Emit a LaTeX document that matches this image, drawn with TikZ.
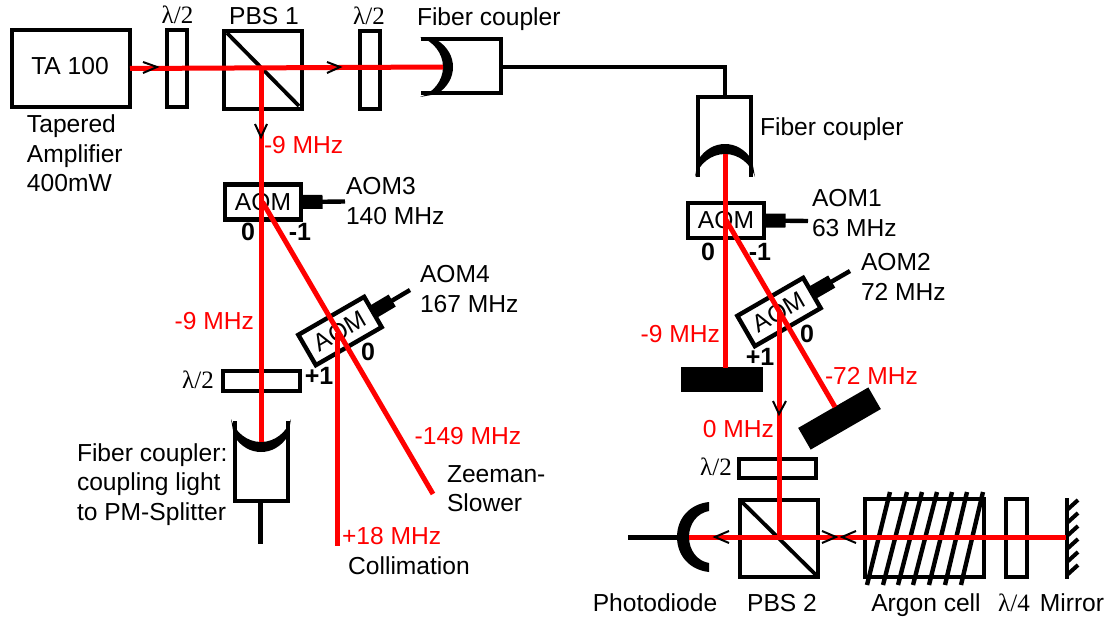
\documentclass[tikz,border=0pt]{standalone}
\usepackage{fontspec}
\setmainfont{Liberation Sans}
\newfontfamily\lamfont{Liberation Serif}
\usetikzlibrary{calc}
\tikzset{
  lab/.style={inner sep=0pt,outer sep=0pt,font=\fontsize{24.6}{29.5}\selectfont,text height=17.2pt,text depth=0pt},
  multi/.style={inner sep=0pt,outer sep=0pt,font=\fontsize{24.6}{29.5}\selectfont,align=left,anchor=north west},
  freq/.style={lab,text=beamred},
  order/.style={lab,font=\fontsize{25}{29.5}\selectfont\bfseries},
  lam/.style={inner sep=0pt,outer sep=0pt,font=\fontsize{25}{29}\selectfont\lamfont,text height=17pt,text depth=0pt},
  optic/.style={draw=black,line width=4.4pt,inner sep=0pt,outer sep=0pt},
  aom/.style={optic,minimum width=76pt,minimum height=35pt,font=\fontsize{24.6}{29}\selectfont},
  dump/.style={fill=black,inner sep=0pt,outer sep=0pt},
  beam/.style={draw=beamred,line width=5pt},
  wire/.style={draw=black,line width=4.4pt},
  fiber/.style={draw=black,line width=5pt},
  stub/.style={draw=black,line width=14pt},
  chev/.style={draw=black,line width=2pt,line join=miter},
  tilted/.style={rotate=30},
}
\definecolor{beamred}{RGB}{255,0,0}
\newcommand{\crescent}{%
  \fill[black] (-30,23) .. controls (-26,10) and (-14,0) .. (0,0)
    .. controls (14,0) and (26,10) .. (30,23) -- (27,6)
    .. controls (20,-5) and (10,-10) .. (0,-10)
    .. controls (-10,-10) and (-20,-5) .. (-27,6) -- cycle;}
\begin{document}
\begin{tikzpicture}[x=1pt,y=-1pt]
\useasboundingbox (0,0) rectangle (1108,618);
% ---------- components
\node[optic,minimum width=118pt,minimum height=77pt] (ta) at (71,68.5) {};
\node[lab] (talab) at (70,66) {TA 100};
\node[multi] (tapered) at (27,115) {Tapered\\Amplifier\\400mW};
\node[optic,minimum width=20pt,minimum height=77pt] (hw1) at (177,68.5) {};
\node[lam] (hw1lab) at (177.5,15) {λ/2};
\node[optic,minimum width=78pt,minimum height=78pt] (pbs1) at (263,70) {};
\node[lab] (pbs1lab) at (264,16) {PBS 1};
\node[optic,minimum width=20pt,minimum height=78pt] (hw2) at (370,70) {};
\node[lam] (hw2lab) at (369,16) {λ/2};
\node[lab,anchor=west] (fc1lab) at (417,17) {Fiber coupler};

\node[aom] (aom3) at (263,202) {AOM};
\node[multi] (aom3lab) at (346,177.5) {AOM3\\140 MHz};
\node[order] (a3z) at (248,232) {0};
\node[order] (a3m) at (300,232) {-1};
\node[aom,tilted] (aom4) at (340,331) {AOM};
\node[multi] (aom4lab) at (420,265.5) {AOM4\\167 MHz};
\node[order] (a4z) at (368,352) {0};
\node[order] (a4p) at (319,376) {+1};
\node[optic,minimum width=77pt,minimum height=20pt] (hw3) at (261.5,381) {};
\node[lam] (hw3lab) at (198,380) {λ/2};

\node[aom] (aom1) at (726,220.5) {AOM};
\node[multi] (aom1lab) at (812,189.5) {AOM1\\63 MHz};
\node[order] (a1z) at (708,252) {0};
\node[order] (a1m) at (760,252) {-1};
\node[aom,tilted] (aom2) at (779,312) {AOM};
\node[multi] (aom2lab) at (861,253.5) {AOM2\\72 MHz};
\node[order] (a2z) at (807,334) {0};
\node[order] (a2p) at (760,357) {+1};
\node[dump,minimum width=82pt,minimum height=25pt] (dump1) at (722,379.5) {};
\node[dump,tilted,minimum width=81pt,minimum height=25pt] (dump2) at (839.5,418.5) {};
\node[optic,minimum width=77pt,minimum height=19pt] (hw4) at (777.5,468.5) {};
\node[lam] (hw4lab) at (716,467) {λ/2};
\node[optic,minimum width=78pt,minimum height=77pt] (pbs2) at (779,538.5) {};
\node[optic,minimum width=119pt,minimum height=78pt] (cell) at (924.5,538) {};
\node[optic,minimum width=21pt,minimum height=78pt] (qw) at (1016.5,538) {};

\node[lab] (pdlab) at (655,603) {Photodiode};
\node[lab] (pbs2lab) at (782,603) {PBS 2};
\node[lab] (celllab) at (926,603) {Argon cell};
\node[lam] (qwlab) at (1014,603) {λ/4};
\node[lab] (mirlab) at (1072,603) {Mirror};

\node[lab,anchor=west] (fc2lab) at (760,127) {Fiber coupler};
\node[multi] (fc3lab) at (77,443.5) {Fiber coupler:\\coupling light\\to PM-Splitter};
\node[multi] (zslab) at (447,465.5) {Zeeman-\\Slower};
\node[lab] (collab) at (409,566) {Collimation};

% ---------- free ends
\coordinate (fc1out) at (503,67);
\coordinate (bend) at (725,67);
\coordinate (fc2in) at (725,95);
\coordinate (fc1focus) at (443,67);
\coordinate (fc2focus) at (725,154);
\coordinate (fc3focus) at (261,442);
\coordinate (fc3out) at (260,503);
\coordinate (fc3end) at (260,544);
\coordinate (split1) at (261,67);
\coordinate (split2) at (779,537);
\coordinate (a3c) at (262.5,202);
\coordinate (a1c) at (726,220);
\coordinate (zs) at (433,494);
\coordinate (coll) at (337,546);
\coordinate (coll0) at (337,333);
\coordinate (d2top) at (835,407);
\coordinate (d1top) at (725,368);
\coordinate (p2) at (779,312);
\coordinate (pdfoc) at (689,537);
\coordinate (pdfib) at (628,537);
\coordinate (pdback) at (677,537);
\coordinate (mirhit) at (1066,537);
\coordinate (a3d) at (345,201.5);
\coordinate (a1d) at (808,221);
\coordinate (a4d) at (410,290);
\coordinate (a2d) at (850,271);

% ---------- fibre coupler housings
\draw[wire] (421,39) -- (501,39) -- (501,93) -- (421,93);
\begin{scope}[shift={(fc1focus)},rotate=-90]\crescent\end{scope}
\draw[wire] (698,177) -- (698,97) -- (751,97) -- (751,177);
\begin{scope}[shift={(fc2focus)}]\crescent\end{scope}
\draw[wire] (235,421) -- (235,501) -- (288,501) -- (288,421);
\begin{scope}[shift={(fc3focus)},yscale=-1]\crescent\end{scope}
% fibres
\draw[wire] (fc1out) -- (bend) -- (fc2in);
\draw[fiber] (fc3out) -- (fc3end);
% AOM drivers
\draw[wire] (aom3.east) -- (a3d);
\draw[stub] (aom3.east) -- ($(aom3.east)!0.49!(a3d)$);
\draw[wire] (aom1.east) -- (a1d);
\draw[stub] (aom1.east) -- ($(aom1.east)!0.49!(a1d)$);
\draw[wire] (aom4.east) -- (a4d);
\draw[stub] (aom4.east) -- ($(aom4.east)!0.52!(a4d)$);
\draw[wire] (aom2.east) -- (a2d);
\draw[stub] (aom2.east) -- ($(aom2.east)!0.52!(a2d)$);
% cube diagonals
\draw[line width=3.8pt] (227,33) -- (299,106);
\draw[line width=3.8pt] (742,502) -- (816,575);
% photodiode
\fill[black] (709,502) .. controls (690,504) and (677,518) .. (677,537)
  .. controls (677,556) and (690,570) .. (709,572) -- (709,563)
  .. controls (697,561) and (689,550) .. (689,537)
  .. controls (689,524) and (697,513) .. (709,511) -- cycle;
\draw[fiber] (pdfib) -- (pdback);
% argon cell windings
\foreach \b/\t in {867/890,883/907,898/922,913/937,929/952,945/967,961/983}
  \draw[line width=4.4pt] (\b,585) -- (\t,492);
% mirror
\draw[line width=4.4pt] (1067,498) -- (1067,579);
\foreach \y in {505,518,531,544,557,570}
  \draw[line width=4pt] (1067,\y+5) -- (1078,\y-5);

% ---------- beams
\draw[beam] (ta.east) -- (fc1focus);
\draw[beam] (split1) -- (fc3focus);
\draw[beam] (a3c) -- (zs);
\draw[beam] (coll0) -- (coll);
\draw[beam] (fc2focus) -- (d1top);
\draw[beam] (a1c) -- (d2top);
\draw[beam] (p2) -- (split2);
\draw[beam] (pdfoc) -- (mirhit);

% ---------- direction marks
\draw[chev] (143,62) -- (157,67) -- (143,73);
\draw[chev] (327,62) -- (340,67) -- (327,73);
\draw[chev] (255,124) -- (261,137) -- (267,124);
\draw[chev] (773,401) -- (779,414) -- (786,401);
\draw[chev] (729,531) -- (715,537) -- (729,543);
\draw[chev] (822,531) -- (836,537) -- (822,543);
\draw[chev] (856,531) -- (842,537) -- (856,543);

% ---------- frequency labels
\node[freq,anchor=west] (f1) at (264,145) {-9 MHz};
\node[freq,anchor=east] (f2) at (254,321) {-9 MHz};
\node[freq] (f3) at (468,436) {-149 MHz};
\node[freq,anchor=west] (f4) at (342,536) {+18 MHz};
\node[freq,anchor=east] (f5) at (720,334) {-9 MHz};
\node[freq,anchor=west] (f6) at (825,376) {-72 MHz};
\node[freq,anchor=east] (f7) at (774,429) {0 MHz};
\end{tikzpicture}
\end{document}
